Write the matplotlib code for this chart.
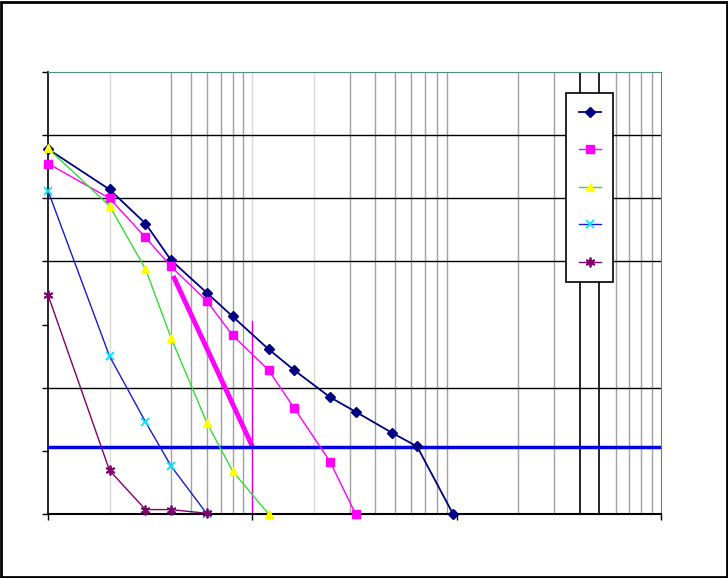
import matplotlib
matplotlib.use("Agg")
import matplotlib.pyplot as plt
from matplotlib.patches import Rectangle

# sieve size (log axis) and the five curves
size = [0.1, 0.2, 0.3, 0.4, 0.6, 0.8, 1.2, 1.6, 2.4, 3.2, 4.8, 6.4, 9.6]
s1 = [57.8, 51.4, 46.0, 40.2, 35.0, 31.3, 26.1, 22.8, 18.5, 16.2, 12.9, 10.7, 0]
s2 = [55.5, 50.0, 43.8, 39.2, 33.7, 28.3, 22.8, 16.8, 8.3, 0]
s3 = [57.9, 48.8, 38.8, 27.9, 14.4, 6.8, 0]
s4 = [51.2, 25.0, 14.6, 7.6, 0]
s5 = [34.7, 6.9, 0.7, 0.7, 0.1]

level = 10.6
slope_x = [0.41, 1.0]
slope_y = [37.7, 10.7]
mark_x = 1.0
mark_y = [0, 30.6]

vgrid = [0.4, 0.5, 0.6, 0.7, 0.8, 0.9, 3, 4, 5, 6, 7, 8, 9, 20, 30, 60, 70, 80, 90]
vgrid_light = [0.2, 1, 2]
vgrid_dark = [40, 50]
hgrid = [20, 40, 50, 60]

fig = plt.figure(figsize=(7.28, 5.78), dpi=100)
ax = fig.add_axes([48 / 728, 1 - 514 / 578, 613 / 728, 442 / 578])
ax.set_xscale("log")
ax.set_xlim(0.1, 100)
ax.set_ylim(0, 70)

for v in vgrid:
    ax.axvline(v, color="#a0a0a0", lw=1, zorder=0)
for v in vgrid_light:
    ax.axvline(v, color="#d8d8d8", lw=1, zorder=0)
for v in vgrid_dark:
    ax.axvline(v, color="black", lw=1.2, zorder=0)
for h in hgrid:
    ax.axhline(h, color="black", lw=1, zorder=0)

l1, = ax.plot(size[:len(s1)], s1, color="#000080", lw=1.3, marker="D", ms=5,
              mfc="#000080", mec="#000080", clip_on=False, zorder=4)
l2, = ax.plot(size[:len(s2)], s2, color="#ff00ff", lw=1, marker="s", ms=6,
              mfc="#ff00ff", mec="#ff00ff", clip_on=False, zorder=4)
l3, = ax.plot(size[:len(s3)], s3, color="#33dd33", lw=1, marker="^", ms=6,
              mfc="#ffff00", mec="#ffff00", clip_on=False, zorder=4)
l4, = ax.plot(size[:len(s4)], s4, color="#1a1ad0", lw=1, marker="x", ms=6,
              mec="#00e5ff", mew=1.3, clip_on=False, zorder=4)
l5, = ax.plot(size[:len(s5)], s5, color="#800070", lw=1, marker=(6, 2, 0), ms=7,
              mec="#800070", mew=1.3, clip_on=False, zorder=4)

ax.axhline(level, color="#0000e0", lw=2.5, zorder=3)
ax.plot(slope_x, slope_y, color="#ff00ff", lw=3.5, solid_capstyle="butt")
ax.plot([mark_x, mark_x], mark_y, color="#dd00dd", lw=1)

for side in ["top", "right"]:
    ax.spines[side].set_color("#4f8f7f")
ax.spines["left"].set_linewidth(1.2)
ax.spines["bottom"].set_linewidth(1.5)

ax.set_yticks(range(0, 71, 10))
ax.set_xticks([0.1, 1, 10, 100])
ax.xaxis.set_minor_locator(plt.NullLocator())
ax.tick_params(axis="both", direction="out", length=4, width=1,
               labelleft=False, labelbottom=False)

leg = ax.legend([l1, l2, l3, l4, l5], [""] * 5, loc="upper left",
                bbox_to_anchor=(566 / 728, 1 - 93 / 578),
                bbox_transform=fig.transFigure, frameon=True, fancybox=False,
                edgecolor="black", framealpha=1, fontsize=10, labelspacing=1.7,
                handlelength=1.6, handletextpad=0, borderpad=0.9,
                borderaxespad=0)
leg.get_frame().set_linewidth(1.2)
leg.set_zorder(5)

fig.patches.append(Rectangle((0.001, 0.002), 0.997, 0.995, transform=fig.transFigure,
                             fill=False, edgecolor="black", lw=2))

fig.savefig("out.png", dpi=100)
